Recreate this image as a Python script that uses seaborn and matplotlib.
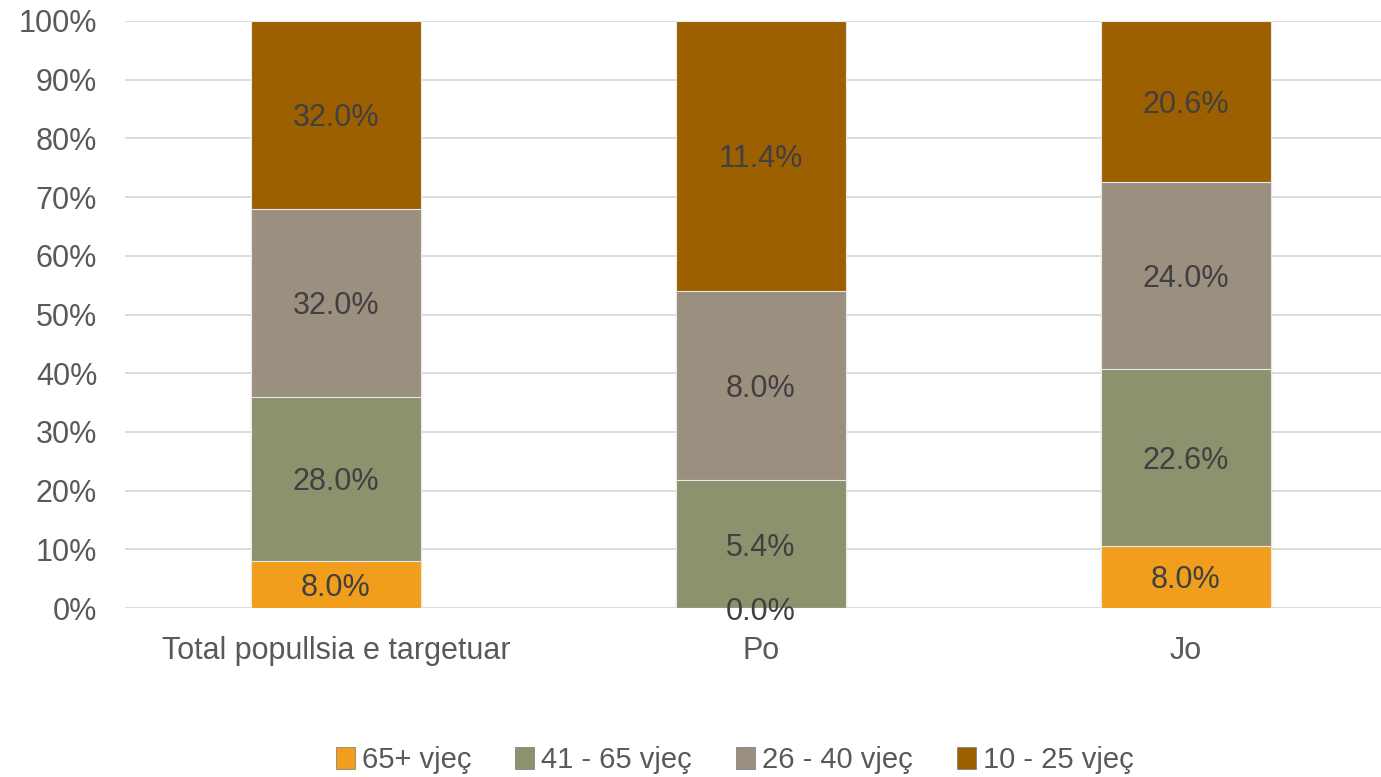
import matplotlib
matplotlib.use("Agg")
import matplotlib.pyplot as plt
import matplotlib.patches as mpatches
import numpy as np
import pandas as pd
import seaborn as sns

# data (label values; bars are normalised to 100%)
groups = ["Total popullsia e targetuar", "Po", "Jo"]
series = ["65+ vjeç", "41 - 65 vjeç", "26 - 40 vjeç", "10 - 25 vjeç"]
age_65 = [8.0, 0.0, 8.0]
age_41_65 = [28.0, 5.4, 22.6]
age_26_40 = [32.0, 8.0, 24.0]
age_10_25 = [32.0, 11.4, 20.6]
colors = ["#F09E1C", "#8A936E", "#9B9080", "#9C6000"]

sns.set_theme(style="white")
plt.rcParams["font.family"] = ["Liberation Sans", "DejaVu Sans"]

vals = np.array([age_65, age_41_65, age_26_40, age_10_25])
share = vals / vals.sum(axis=0) * 100
cum = np.cumsum(share, axis=0)

fig = plt.figure(figsize=(13.81, 7.77), dpi=100)
ax = fig.add_axes([125 / 1381, 1 - 608 / 777, 1 - 125 / 1381, (608 - 21) / 777])

# overlay cumulative bars, tallest first
for i in range(len(series) - 1, -1, -1):
    df = pd.DataFrame({"group": groups, "value": cum[i]})
    sns.barplot(data=df, x="group", y="value", color=colors[i], width=0.4,
                edgecolor="#e8e8e8", linewidth=0.8, saturation=1, ax=ax, zorder=3)

# data labels at segment centres
for i in range(len(series)):
    for j in range(len(groups)):
        mid = cum[i][j] - share[i][j] / 2
        ax.text(j, mid, f"{vals[i][j]:.1f}%", ha="center", va="center_baseline",
                fontsize=22, color="#404040", zorder=5)

ax.set_xlim(-0.4965, 2.459)
ax.set_ylim(0, 100)
ax.set_yticks(range(0, 101, 10))
ax.set_yticklabels([f"{t}%" for t in range(0, 101, 10)])
ax.yaxis.grid(True, color="#d9d9d9", linewidth=1.3, zorder=0)
ax.set_axisbelow(True)
for s in ax.spines.values():
    s.set_visible(False)
ax.set_xlabel("")
ax.set_ylabel("")
ax.tick_params(axis="y", labelsize=22, labelcolor="#595959", length=0, pad=20)
ax.tick_params(axis="x", labelsize=22, labelcolor="#595959", length=0, pad=20)

handles = [mpatches.Patch(facecolor=c, edgecolor="#777777", linewidth=0.5) for c in colors]
fig.legend(handles, series, loc="center", bbox_to_anchor=(0.532, 1 - 760 / 777),
           ncol=4, frameon=False, handlelength=0.65, handleheight=0.75,
           handletextpad=0.25, columnspacing=1.5,
           prop={"family": ["Liberation Sans Narrow", "Liberation Sans"], "size": 21},
           labelcolor="#595959")

fig.savefig("out.png", dpi=100)
